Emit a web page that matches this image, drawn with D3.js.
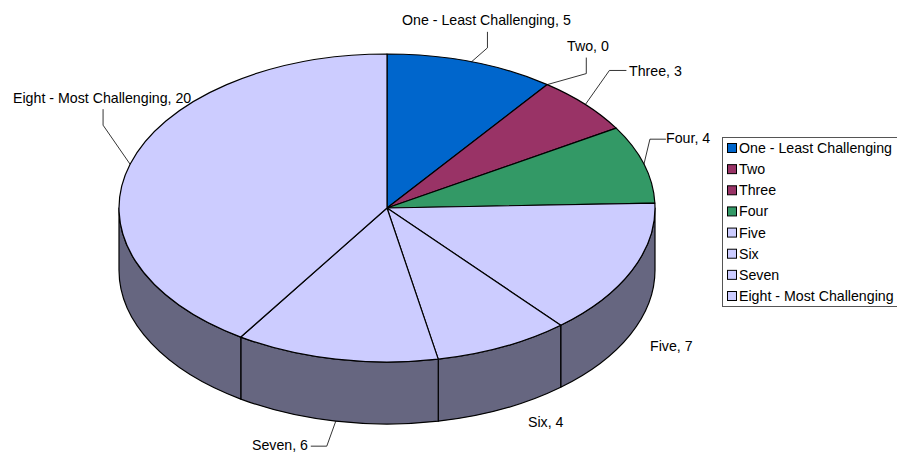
<!doctype html>
<html lang="en">
<head>
<meta charset="UTF-8">
<title>Challenge ratings</title>
<script src="https://d3js.org/d3.v7.min.js"></script>
<style>
body { margin: 0; background: #ffffff; overflow: hidden; }
svg { display: block; }
text { font-family: "Liberation Sans", Arial, sans-serif; font-size: 14.2px; fill: #000000; }
</style>
</head>
<body>
<div id="plot"></div>
<script>

var categories = ["One - Least Challenging", "Two", "Three", "Four", "Five", "Six", "Seven", "Eight - Most Challenging"];
var values = [5, 0, 3, 4, 7, 4, 6, 20];
var colors = ["#0066cc", "#993366", "#993366", "#339966", "#ccccff", "#ccccff", "#ccccff", "#ccccff"];
var sideColor = "#666680";

// label placement, one per category: [text x, text baseline y, anchor, elbow dx, elbow dy, end dx, end dy]
// elbow/end are offsets from the point on the rim, null = no leader
var labelSpots = [
	[402, 25, "start", 16, -14, 16, -30],
	[567, 51, "start", 39, -11, 39, -27],
	[629, 76, "start", 24, -34, 41, -34],
	[666, 143, "start", 6, -25, 22, -25],
	[650, 351, "start", null],
	[528, 427, "start", null],
	[252, 449.5, "start", -9, 25, -25, 25],
	[13, 103, "start", -27, -39, -27, -55]
];

var width = 897;
var height = 453;
var cx = 387, cy = 208, rx = 268, ry = 154, depth = 62;

var svg = d3.select("#plot").append("svg")
	.attr("width", width)
	.attr("height", height);

var xScale = d3.scaleLinear().domain([-1, 1]).range([cx - rx, cx + rx]);
var yScale = d3.scaleLinear().domain([-1, 1]).range([cy + ry, cy - ry]);

var pie = d3.pie().sort(null).startAngle(0).endAngle(2 * Math.PI);
var slices = pie(values);

function rimX(a) { return xScale(Math.sin(a)); }
function rimY(a) { return yScale(Math.cos(a)); }

function topPath(d) {
	if (d.endAngle - d.startAngle === 0) return "";
	var large = d.endAngle - d.startAngle > Math.PI ? 1 : 0;
	return "M" + cx + "," + cy +
		"L" + rimX(d.startAngle) + "," + rimY(d.startAngle) +
		"A" + rx + "," + ry + " 0 " + large + " 1 " + rimX(d.endAngle) + "," + rimY(d.endAngle) + "Z";
}

function sidePath(a0, a1) {
	return "M" + rimX(a0) + "," + rimY(a0) +
		"A" + rx + "," + ry + " 0 0 1 " + rimX(a1) + "," + rimY(a1) +
		"L" + rimX(a1) + "," + (rimY(a1) + depth) +
		"A" + rx + "," + ry + " 0 0 0 " + rimX(a0) + "," + (rimY(a0) + depth) + "Z";
}

// only the front half of the wall shows
var sides = slices.map(function (d) {
	return [Math.max(d.startAngle, Math.PI / 2), Math.min(d.endAngle, 3 * Math.PI / 2)];
}).filter(function (a) { return a[1] > a[0]; });

svg.selectAll("path.side")
	.data(sides)
	.enter().append("path")
	.attr("class", "side")
	.attr("d", function (a) { return sidePath(a[0], a[1]); })
	.style("fill", sideColor)
	.style("stroke", "#000000")
	.style("stroke-width", 1.2)
	.style("stroke-linejoin", "round");

svg.selectAll("path.top")
	.data(slices)
	.enter().append("path")
	.attr("class", "top")
	.attr("d", topPath)
	.style("fill", function (d, i) { return colors[i]; })
	.style("stroke", "#000000")
	.style("stroke-width", 1.2)
	.style("stroke-linejoin", "round");

slices.forEach(function (d, i) {
	var spot = labelSpots[i];
	var mid = (d.startAngle + d.endAngle) / 2;
	var x0 = rimX(mid);
	var y0 = rimY(mid);
	// rim point on the lower edge for labels hanging off the wall
	if (mid > Math.PI / 2 && mid < 3 * Math.PI / 2) y0 += depth;

	if (spot[3] !== null) {
		svg.append("path")
			.attr("d", d3.line()([[x0, y0], [x0 + spot[3], y0 + spot[4]], [x0 + spot[5], y0 + spot[6]]]))
			.style("fill", "none")
			.style("stroke", "#000000")
			.style("stroke-width", 0.8);
	}

	svg.append("text")
		.attr("x", spot[0])
		.attr("y", spot[1])
		.attr("text-anchor", spot[2])
		.text(categories[i] + ", " + values[i]);
});

// legend, its right edge runs off the picture
var legendX = 722, legendY = 137, legendH = 169, legendW = 185;
var legendScale = d3.scalePoint().domain(categories).range([legendY + 11, legendY + 159]);

svg.append("rect")
	.attr("x", legendX + 0.5)
	.attr("y", legendY + 0.5)
	.attr("width", legendW)
	.attr("height", legendH)
	.style("fill", "#ffffff")
	.style("stroke", "#555555")
	.style("stroke-width", 1);

var items = svg.selectAll("g.item")
	.data(categories)
	.enter().append("g")
	.attr("class", "item")
	.attr("transform", function (d) { return "translate(" + legendX + "," + legendScale(d) + ")"; });

items.append("rect")
	.attr("x", 5.5)
	.attr("y", -4.5)
	.attr("width", 9)
	.attr("height", 9)
	.style("fill", function (d, i) { return colors[i]; })
	.style("stroke", "#000000")
	.style("stroke-width", 1);

items.append("text")
	.attr("x", 17)
	.attr("y", 5)
	.text(function (d) { return d; });

</script>
</body>
</html>
